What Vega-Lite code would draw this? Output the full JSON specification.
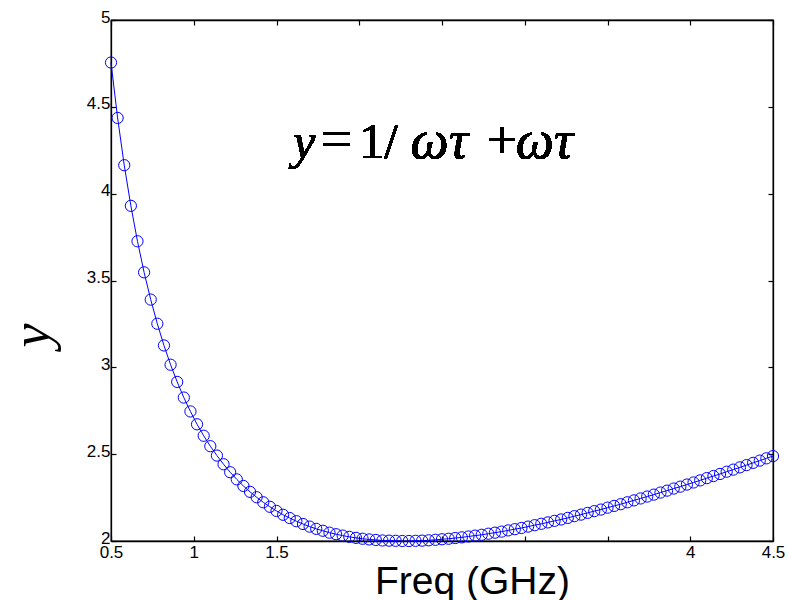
{
  "$schema": "https://vega.github.io/schema/vega-lite/v6.json",
  "autosize": "none",
  "width": 662,
  "height": 521,
  "padding": {"left": 111, "top": 20, "right": 15, "bottom": 59},
  "background": "white",
  "config": {
    "view": {"stroke": "black", "strokeWidth": 1.3},
    "text": {"fontWeight": "normal"},
    "axis": {"domainColor": "black", "tickColor": "black", "labelColor": "black", "titleColor": "black", "grid": false, "labelFont": "Liberation Sans", "labelFontSize": 17, "tickSize": -5, "tickWidth": 1.2, "domainWidth": 1.3, "format": "~g"}
  },
  "data": {"values": [
    {"f":0.50,"y":4.755},{"f":0.54,"y":4.436},{"f":0.58,"y":4.164},{"f":0.62,"y":3.930},{"f":0.66,"y":3.726},
    {"f":0.70,"y":3.547},{"f":0.74,"y":3.390},{"f":0.78,"y":3.251},{"f":0.82,"y":3.126},{"f":0.86,"y":3.015},
    {"f":0.90,"y":2.916},{"f":0.94,"y":2.826},{"f":0.98,"y":2.746},{"f":1.02,"y":2.672},{"f":1.06,"y":2.606},
    {"f":1.10,"y":2.546},{"f":1.14,"y":2.492},{"f":1.18,"y":2.442},{"f":1.22,"y":2.396},{"f":1.26,"y":2.355},
    {"f":1.30,"y":2.317},{"f":1.34,"y":2.283},{"f":1.38,"y":2.252},{"f":1.42,"y":2.223},{"f":1.46,"y":2.197},
    {"f":1.50,"y":2.173},{"f":1.54,"y":2.151},{"f":1.58,"y":2.132},{"f":1.62,"y":2.114},{"f":1.66,"y":2.098},
    {"f":1.70,"y":2.083},{"f":1.74,"y":2.070},{"f":1.78,"y":2.059},{"f":1.82,"y":2.048},{"f":1.86,"y":2.039},
    {"f":1.90,"y":2.031},{"f":1.94,"y":2.024},{"f":1.98,"y":2.018},{"f":2.02,"y":2.013},{"f":2.06,"y":2.009},
    {"f":2.10,"y":2.006},{"f":2.14,"y":2.003},{"f":2.18,"y":2.002},{"f":2.22,"y":2.001},{"f":2.26,"y":2.000},
    {"f":2.30,"y":2.000},{"f":2.34,"y":2.001},{"f":2.38,"y":2.002},{"f":2.42,"y":2.004},{"f":2.46,"y":2.007},
    {"f":2.50,"y":2.010},{"f":2.54,"y":2.013},{"f":2.58,"y":2.017},{"f":2.62,"y":2.021},{"f":2.66,"y":2.026},
    {"f":2.70,"y":2.031},{"f":2.74,"y":2.036},{"f":2.78,"y":2.042},{"f":2.82,"y":2.048},{"f":2.86,"y":2.054},
    {"f":2.90,"y":2.061},{"f":2.94,"y":2.068},{"f":2.98,"y":2.075},{"f":3.02,"y":2.083},{"f":3.06,"y":2.091},
    {"f":3.10,"y":2.099},{"f":3.14,"y":2.107},{"f":3.18,"y":2.116},{"f":3.22,"y":2.124},{"f":3.26,"y":2.133},
    {"f":3.30,"y":2.143},{"f":3.34,"y":2.152},{"f":3.38,"y":2.162},{"f":3.42,"y":2.172},{"f":3.46,"y":2.181},
    {"f":3.50,"y":2.192},{"f":3.54,"y":2.202},{"f":3.58,"y":2.212},{"f":3.62,"y":2.223},{"f":3.66,"y":2.234},
    {"f":3.70,"y":2.245},{"f":3.74,"y":2.256},{"f":3.78,"y":2.267},{"f":3.82,"y":2.279},{"f":3.86,"y":2.290},
    {"f":3.90,"y":2.302},{"f":3.94,"y":2.313},{"f":3.98,"y":2.325},{"f":4.02,"y":2.337},{"f":4.06,"y":2.349},
    {"f":4.10,"y":2.362},{"f":4.14,"y":2.374},{"f":4.18,"y":2.386},{"f":4.22,"y":2.399},{"f":4.26,"y":2.411},
    {"f":4.30,"y":2.424},{"f":4.34,"y":2.437},{"f":4.38,"y":2.450},{"f":4.42,"y":2.463},{"f":4.46,"y":2.476},
    {"f":4.50,"y":2.489}
  ]},
  "layer": [
    {
      "encoding": {
        "x": {"field": "f", "type": "quantitative", "scale": {"domain": [0.5, 4.5], "nice": false, "zero": false},
          "axis": {"orient": "bottom", "values": [0.5,1,1.5,2,2.5,3,3.5,4,4.5], "labelExpr": "(datum.value >= 1.9 && datum.value <= 3.6) ? '' : datum.label", "labelPadding": 8, "labelFlush": false, "labelBound": false, "labelOverlap": false,
            "title": "Freq (GHz)", "titleFont": "Liberation Sans", "titleFontSize": 39, "titleFontWeight": "normal", "titleX": 361, "titleY": 52, "titleAlign": "center", "titleBaseline": "alphabetic"}},
        "y": {"field": "y", "type": "quantitative", "scale": {"domain": [2, 5], "nice": false, "zero": false},
          "axis": {"orient": "left", "values": [2,2.5,3,3.5,4,4.5,5], "labelPadding": 6, "labelOffset": -3, "labelFlush": false, "labelOverlap": false,
            "title": "y", "titleFont": "Liberation Serif", "titleFontStyle": "italic", "titleFontWeight": "normal", "titleFontSize": 54, "titleAngle": 270, "titleX": -79, "titleY": 315, "titleAlign": "center", "titleBaseline": "middle"}}
      },
      "layer": [
        {"mark": {"type": "line", "color": "#0000ff", "strokeWidth": 1}},
        {"mark": {"type": "point", "shape": "circle", "filled": false, "color": "#0000ff", "strokeWidth": 1, "size": 126, "opacity": 1}}
      ]
    },
    {
      "mark": {"type": "point", "opacity": 0},
      "encoding": {
        "x": {"field": "f", "type": "quantitative", "axis": {"orient": "top", "values": [0.5,1,1.5,2,2.5,3,3.5,4,4.5], "labels": false, "title": null}},
        "y": {"field": "y", "type": "quantitative", "axis": {"orient": "right", "values": [2,2.5,3,3.5,4,4.5,5], "labels": false, "title": null}}
      }
    },
    {
      "mark": {"type": "text", "text": "y", "font": "Liberation Serif", "fontStyle": "italic", "fontWeight": "normal", "fontSize": 50, "align": "left", "baseline": "alphabetic", "color": "black"},
      "encoding": {"x": {"datum": 1.6, "type": "quantitative", "axis": null}, "y": {"datum": 4.205, "type": "quantitative", "axis": null}}
    },
    {
      "mark": {"type": "text", "text": "=", "font": "Liberation Serif", "fontWeight": "normal", "fontSize": 56, "align": "left", "baseline": "alphabetic", "color": "black"},
      "encoding": {"x": {"datum": 1.765, "type": "quantitative", "axis": null}, "y": {"datum": 4.205, "type": "quantitative", "axis": null}}
    },
    {
      "mark": {"type": "text", "text": "1", "font": "Liberation Serif", "fontWeight": "normal", "fontSize": 50, "align": "left", "baseline": "alphabetic", "color": "black"},
      "encoding": {"x": {"datum": 2.0, "type": "quantitative", "axis": null}, "y": {"datum": 4.205, "type": "quantitative", "axis": null}}
    },
    {
      "mark": {"type": "text", "text": "/", "font": "Liberation Serif", "fontWeight": "normal", "fontSize": 50, "align": "left", "baseline": "alphabetic", "color": "black"},
      "encoding": {"x": {"datum": 2.15, "type": "quantitative", "axis": null}, "y": {"datum": 4.205, "type": "quantitative", "axis": null}}
    },
    {
      "mark": {"type": "text", "text": "ωτ", "font": "Liberation Serif", "fontStyle": "italic", "fontWeight": "normal", "fontSize": 54, "align": "left", "baseline": "alphabetic", "color": "black"},
      "encoding": {"x": {"datum": 2.31, "type": "quantitative", "axis": null}, "y": {"datum": 4.205, "type": "quantitative", "axis": null}}
    },
    {
      "mark": {"type": "text", "text": "+", "font": "Liberation Serif", "fontWeight": "normal", "fontSize": 54, "align": "left", "baseline": "alphabetic", "color": "black"},
      "encoding": {"x": {"datum": 2.77, "type": "quantitative", "axis": null}, "y": {"datum": 4.205, "type": "quantitative", "axis": null}}
    },
    {
      "mark": {"type": "text", "text": "ωτ", "font": "Liberation Serif", "fontStyle": "italic", "fontWeight": "normal", "fontSize": 54, "align": "left", "baseline": "alphabetic", "color": "black"},
      "encoding": {"x": {"datum": 2.945, "type": "quantitative", "axis": null}, "y": {"datum": 4.205, "type": "quantitative", "axis": null}}
    }
  ],
  "resolve": {"axis": {"x": "independent", "y": "independent"}}
}
